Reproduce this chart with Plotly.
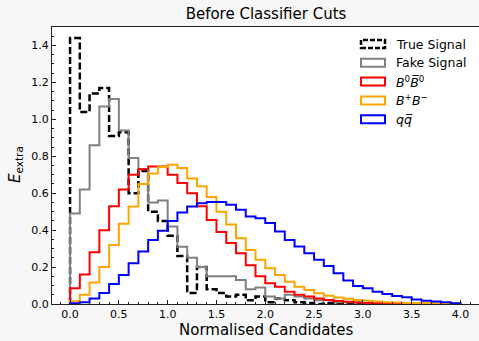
import plotly.graph_objects as go

# ---- data ----
bin_edges = [round(0.1 * i, 1) for i in range(41)]  # 0.0 ... 4.0, width 0.1

true_signal = [1.44, 1.04, 1.14, 1.17, 0.91, 0.93, 0.60, 0.72, 0.50, 0.45,
               0.37, 0.26, 0.06, 0.20, 0.08, 0.06, 0.04, 0.05, 0.02, 0.04,
               0.01, 0.03, 0.02, 0.01, 0.005, 0.0, 0.005, 0.0, 0.0, 0.0,
               0.0, 0.0, 0.0, 0.0, 0.0, 0.0, 0.0, 0.0, 0.0, 0.0]
fake_signal = [0.49, 0.62, 0.86, 1.07, 1.11, 0.94, 0.79, 0.73, 0.55, 0.56,
               0.42, 0.31, 0.25, 0.20, 0.15, 0.15, 0.15, 0.13, 0.08, 0.09,
               0.04, 0.03, 0.05, 0.04, 0.03, 0.02, 0.02, 0.01, 0.01, 0.01,
               0.005, 0.005, 0.005, 0.003, 0.003, 0.002, 0.002, 0.001, 0.001, 0.001]
b0_b0bar = [0.085, 0.16, 0.28, 0.40, 0.53, 0.62, 0.70, 0.73, 0.745, 0.745,
            0.70, 0.655, 0.60, 0.53, 0.455, 0.39, 0.33, 0.275, 0.21, 0.15,
            0.112, 0.094, 0.067, 0.05, 0.04, 0.03, 0.022, 0.016, 0.012, 0.008,
            0.006, 0.004, 0.003, 0.002, 0.002, 0.001, 0.001, 0.001, 0.0, 0.0]
bplus_bminus = [0.015, 0.05, 0.116, 0.20, 0.32, 0.434, 0.528, 0.65, 0.707, 0.742,
                0.754, 0.736, 0.68, 0.637, 0.58, 0.50, 0.43, 0.356, 0.293, 0.239,
                0.194, 0.157, 0.121, 0.094, 0.076, 0.058, 0.045, 0.035, 0.028, 0.022,
                0.017, 0.013, 0.010, 0.008, 0.006, 0.005, 0.004, 0.003, 0.002, 0.001]
qqbar = [0.004, 0.01, 0.03, 0.06, 0.108, 0.157, 0.22, 0.284, 0.347, 0.396,
         0.45, 0.495, 0.528, 0.546, 0.552, 0.552, 0.537, 0.51, 0.474, 0.465,
         0.438, 0.392, 0.347, 0.311, 0.275, 0.239, 0.206, 0.167, 0.127, 0.098,
         0.085, 0.067, 0.054, 0.043, 0.036, 0.025, 0.018, 0.013, 0.009, 0.004]

series_names = ["True Signal", "Fake Signal",
                "<i>B</i><sup>0</sup><i>B\u0305</i><sup>0</sup>",
                "<i>B</i><sup>+</sup><i>B</i><sup>\u2212</sup>",
                "<i>q</i><i>q\u0305</i>"]
series_values = [true_signal, fake_signal, b0_b0bar, bplus_bminus, qqbar]
series_colors = ["black", "gray", "red", "orange", "blue"]
series_dash = ["7px,3px", "solid", "solid", "solid", "solid"]

x_ticks = [0.0, 0.5, 1.0, 1.5, 2.0, 2.5, 3.0, 3.5, 4.0]
y_ticks = [0.0, 0.2, 0.4, 0.6, 0.8, 1.0, 1.2, 1.4]

# ---- figure geometry ----
W, H = 479, 341
ML, MR, MT, MB = 52, 0, 27, 37
PW, PH = W - ML - MR, H - MT - MB
FONT = "DejaVu Sans"


def px_to_paper(px, py):
    return (px - ML) / PW, (H - MB - py) / PH


fig = go.Figure()

for name, vals, col, dash in zip(series_names, series_values, series_colors, series_dash):
    xs = [bin_edges[0]] + bin_edges + [bin_edges[-1]]
    ys = [0] + vals + [vals[-1], 0]
    fig.add_trace(go.Scatter(
        x=xs, y=ys, mode="lines", line_shape="hv",
        line=dict(color=col, width=2.5 if col == "black" else 2, dash=dash),
        name=name, showlegend=False, hoverinfo="skip",
    ))

# ---- manual legend (matplotlib-style outlined patches) ----
shapes = []
annotations = []
row_y0 = 44.0
row_step = 18.8
for i, (name, col, dash) in enumerate(zip(series_names, series_colors, series_dash)):
    cy = row_y0 + i * row_step
    x0, y0 = px_to_paper(361, cy + 4)
    x1, y1 = px_to_paper(385, cy - 4)
    shapes.append(dict(type="rect", xref="paper", yref="paper",
                       x0=x0, y0=y0, x1=x1, y1=y1,
                       line=dict(color=col, width=2.5 if col == "black" else 2,
                                 dash="5px,2px" if dash != "solid" else "solid"),
                       fillcolor="rgba(0,0,0,0)"))
    tx, ty = px_to_paper(394, cy)
    annotations.append(dict(xref="paper", yref="paper", x=tx, y=ty,
                            xanchor="left", yanchor="middle", showarrow=False,
                            text=name, font=dict(family=FONT, size=12.5, color="black")))

# axis titles as annotations placed in the margins
ax_x, ax_y = px_to_paper(266, 330)
annotations.append(dict(xref="paper", yref="paper", x=ax_x, y=ax_y,
                        xanchor="center", yanchor="middle", showarrow=False,
                        text="Normalised Candidates",
                        font=dict(family=FONT, size=15, color="black")))
ay_x, ay_y = px_to_paper(15, 165)
annotations.append(dict(xref="paper", yref="paper", x=ay_x, y=ay_y,
                        xanchor="center", yanchor="middle", showarrow=False,
                        text="<i>E</i><sub>extra</sub>", textangle=-90,
                        font=dict(family=FONT, size=15, color="black")))

fig.update_layout(
    width=W, height=H,
    margin=dict(l=ML, r=MR, t=MT, b=MB, pad=0, autoexpand=False),
    paper_bgcolor="#f7f7f7", plot_bgcolor="white",
    showlegend=False,
    font=dict(family=FONT, size=11, color="black"),
    title=dict(text="Before Classifier Cuts", x=266 / W, xanchor="center",
               y=1 - 14 / H, yanchor="middle",
               font=dict(family=FONT, size=15, color="black")),
    shapes=shapes, annotations=annotations,
)

fig.update_xaxes(
    range=[-0.185, 4.19], tickvals=x_ticks, tickformat=".1f",
    ticks="inside", ticklen=4, tickwidth=1, tickcolor="#222",
    minor=dict(ticks="inside", ticklen=2, dtick=0.1, tickcolor="#222", showgrid=False),
    showline=True, linecolor="#222", linewidth=1, mirror=True,
    showgrid=False, zeroline=False, automargin=False,
    tickfont=dict(family=FONT, size=11),
)
fig.update_yaxes(
    range=[0, 1.5], tickvals=y_ticks, tickformat=".1f",
    ticks="inside", ticklen=4, tickwidth=1, tickcolor="#222",
    minor=dict(ticks="inside", ticklen=2, dtick=0.05, tickcolor="#222", showgrid=False),
    showline=True, linecolor="#222", linewidth=1,
    showgrid=False, zeroline=False, automargin=False,
    tickfont=dict(family=FONT, size=11),
)

fig.write_html(
    "out.html",
    config={"displayModeBar": False, "staticPlot": True},
    post_script="document.body.style.margin='0';document.body.style.padding='0';"
                "document.documentElement.style.overflow='hidden';",
)
